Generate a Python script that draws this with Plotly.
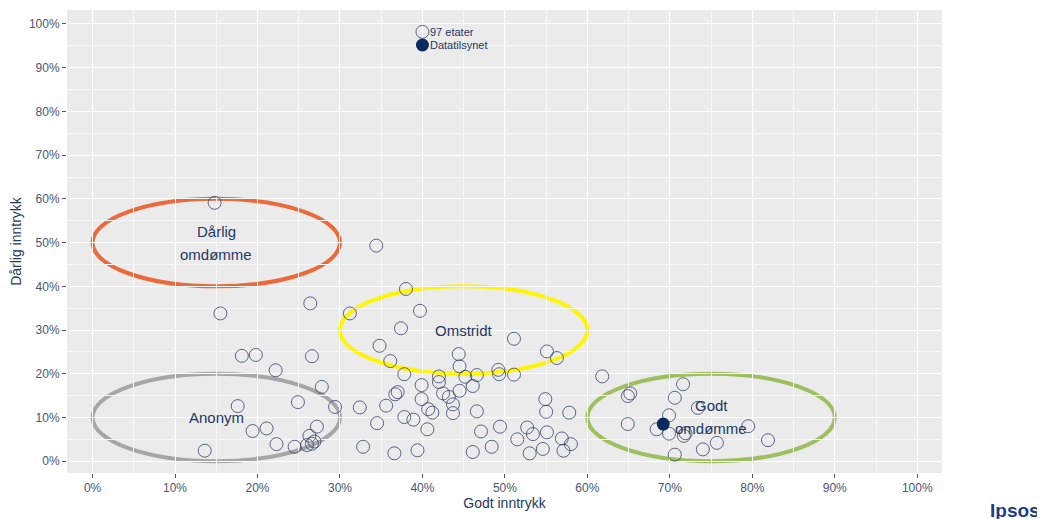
import plotly.graph_objects as go

# Open circles: the 97 agencies (Godt inntrykk, Dårlig inntrykk)
godt = [0.148, 0.344, 0.380, 0.264, 0.397, 0.312, 0.155, 0.374, 0.511, 0.348,
        0.551, 0.444, 0.181, 0.198, 0.266, 0.563, 0.361, 0.445, 0.222, 0.492,
        0.493, 0.378, 0.420, 0.452, 0.466, 0.511, 0.618, 0.420, 0.399, 0.461,
        0.278, 0.716, 0.445, 0.370, 0.367, 0.425, 0.652, 0.649, 0.432, 0.706,
        0.399, 0.549, 0.249, 0.437, 0.356, 0.176, 0.294, 0.324, 0.734, 0.407,
        0.466, 0.550, 0.412, 0.437, 0.578, 0.699, 0.378, 0.389, 0.345, 0.649,
        0.795, 0.272, 0.494, 0.527, 0.211, 0.684, 0.406, 0.194, 0.471, 0.551,
        0.699, 0.534, 0.717, 0.263, 0.569, 0.515, 0.819, 0.757, 0.266, 0.223,
        0.580, 0.260, 0.245, 0.328, 0.484, 0.546, 0.740, 0.394, 0.136, 0.571,
        0.461, 0.530, 0.366, 0.706, 0.719, 0.269]
darlig = [0.591, 0.493, 0.394, 0.361, 0.344, 0.338, 0.338, 0.304, 0.280, 0.264,
          0.251, 0.245, 0.241, 0.243, 0.240, 0.236, 0.229, 0.217, 0.208, 0.209,
          0.199, 0.199, 0.194, 0.193, 0.197, 0.198, 0.194, 0.181, 0.174, 0.172,
          0.170, 0.176, 0.161, 0.158, 0.153, 0.155, 0.155, 0.149, 0.147, 0.145,
          0.142, 0.142, 0.135, 0.130, 0.127, 0.126, 0.124, 0.123, 0.122, 0.119,
          0.114, 0.113, 0.111, 0.110, 0.111, 0.105, 0.101, 0.095, 0.087, 0.085,
          0.080, 0.079, 0.079, 0.077, 0.075, 0.073, 0.073, 0.069, 0.068, 0.066,
          0.063, 0.062, 0.058, 0.058, 0.052, 0.050, 0.048, 0.042, 0.040, 0.039,
          0.039, 0.037, 0.033, 0.033, 0.033, 0.028, 0.027, 0.025, 0.024, 0.024,
          0.021, 0.018, 0.018, 0.015, 0.064, 0.045]

# Filled point: Datatilsynet
dt_godt = [0.692]
dt_darlig = [0.085]

# Key entries
key_labels = ["97 etater", "Datatilsynet"]
key_x = [0.40, 0.40]
key_y = [0.982, 0.952]

# Segment ellipses: (label lines, x0, x1, y0, y1, colour)
seg_labels = [["Dårlig", "omdømme"], ["Anonym"], ["Omstridt"], ["Godt", "omdømme"]]
seg_x0 = [0.0, 0.0, 0.30, 0.60]
seg_x1 = [0.30, 0.30, 0.60, 0.90]
seg_y0 = [0.40, 0.0, 0.20, 0.0]
seg_y1 = [0.60, 0.20, 0.40, 0.20]
seg_col = ["#EC6A3A", "#A6A6A6", "#FFF500", "#9DBF5E"]

ticks = [i / 10 for i in range(11)]
tick_text = [f"{i * 10}%" for i in range(11)]

NAVY = "#1F3864"
OPEN_COL = "rgba(35,50,95,0.72)"
FILL_COL = "#0B2B5E"
TICK_COL = "#4A5672"
FONT = "Liberation Sans, Arial"

fig = go.Figure()

fig.add_trace(go.Scatter(
    x=godt, y=darlig, mode="markers", showlegend=False, hoverinfo="x+y",
    marker=dict(symbol="circle-open", size=13, color=OPEN_COL, line=dict(width=1))))
fig.add_trace(go.Scatter(
    x=dt_godt, y=dt_darlig, mode="markers", showlegend=False,
    marker=dict(symbol="circle", size=13, color=FILL_COL)))
fig.add_trace(go.Scatter(
    x=key_x[:1], y=key_y[:1], mode="markers", showlegend=False, hoverinfo="skip",
    marker=dict(symbol="circle-open", size=13, color=OPEN_COL, line=dict(width=1))))
fig.add_trace(go.Scatter(
    x=key_x[1:], y=key_y[1:], mode="markers", showlegend=False, hoverinfo="skip",
    marker=dict(symbol="circle", size=13, color=FILL_COL)))

for lab, kx, ky in zip(key_labels, key_x, key_y):
    fig.add_annotation(x=kx, y=ky, text=lab, showarrow=False, xanchor="left",
                       xshift=6, font=dict(size=11, color=NAVY, family=FONT))

for lines, x0, x1, y0, y1, col in zip(seg_labels, seg_x0, seg_x1, seg_y0, seg_y1, seg_col):
    fig.add_shape(type="circle", xref="x", yref="y", x0=x0, x1=x1, y0=y0, y1=y1,
                  line=dict(color=col, width=4), layer="below")
    cx, cy = (x0 + x1) / 2, (y0 + y1) / 2
    n = len(lines)
    for i, ln in enumerate(lines):
        shift = ((n - 1) / 2 - i) * 23
        fig.add_annotation(x=cx, y=cy, text=ln, showarrow=False, yshift=shift,
                           font=dict(size=15, color=NAVY, family=FONT))

fig.add_annotation(xref="paper", yref="paper", x=1.0835, y=-0.080,
                   text="<b>Ipsos</b>", showarrow=False, xanchor="center",
                   yanchor="middle",
                   font=dict(size=19, color="#1F3C88", family=FONT))

axis_common = dict(
    tickvals=ticks, ticktext=tick_text, showgrid=True, gridcolor="white",
    gridwidth=1.2, zeroline=False, showline=False, ticks="outside", ticklen=4,
    tickcolor="#555555", tickwidth=1,
    tickfont=dict(size=12, color=TICK_COL, family=FONT),
    minor=dict(dtick=0.05, showgrid=True, gridcolor="#F7F7F7", gridwidth=0.6,
               tick0=0),
)

fig.update_layout(
    width=1045, height=519,
    margin=dict(l=59, r=111, t=2, b=54),
    paper_bgcolor="white", plot_bgcolor="#EBEBEB",
    font=dict(family=FONT, color=NAVY),
    xaxis=dict(range=[-0.031, 1.03], **axis_common,
               title=dict(text="Godt inntrykk", standoff=0,
                          font=dict(size=14, color=NAVY))),
    yaxis=dict(range=[-0.027, 1.032], **axis_common,
               title=dict(text="Dårlig inntrykk", standoff=7,
                          font=dict(size=14, color=NAVY))),
)

fig.write_html("out.html")
